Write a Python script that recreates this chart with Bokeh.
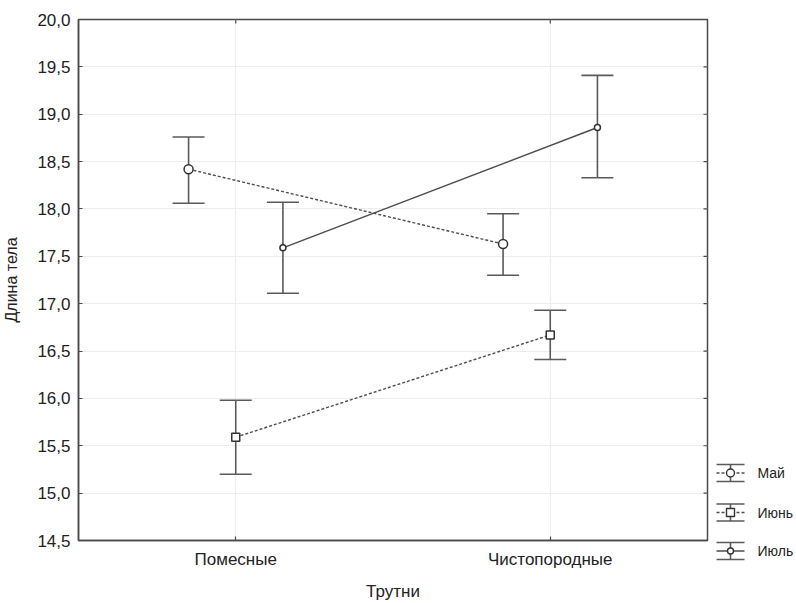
import math

from bokeh.plotting import figure
from bokeh.models import (ColumnDataSource, FactorRange, Range1d, Whisker, TeeHead,
                          FixedTicker, CustomJSTickFormatter)
from bokeh.transform import dodge
from bokeh.layouts import row, column
from bokeh.embed import file_html
from bokeh.resources import INLINE
from bokeh.core.properties import value

# Drone body length by origin group and month: mean with confidence interval
groups = ["Помесные", "Чистопородные"]
months = ["Май", "Июнь", "Июль"]

may_mean = [18.42, 17.63]
may_low = [18.06, 17.30]
may_high = [18.76, 17.95]

june_mean = [15.59, 16.67]
june_low = [15.20, 16.41]
june_high = [15.98, 16.93]

july_mean = [17.59, 18.86]
july_low = [17.11, 18.33]
july_high = [18.07, 19.41]

y_ticks = [14.5, 15.0, 15.5, 16.0, 16.5, 17.0, 17.5, 18.0, 18.5, 19.0, 19.5, 20.0]

FONT = "Liberation Sans"
TEXT = "#222222"
FRAME = "#4a4a4a"
LINE = "#4d4d4d"
BAR = "#5a5a5a"

series = [
    dict(name=months[0], mean=may_mean, low=may_low, high=may_high,
         offset=-0.15, dash="3 2", marker="circle", size=9),
    dict(name=months[1], mean=june_mean, low=june_low, high=june_high,
         offset=0.0, dash="3 2", marker="square", size=8),
    dict(name=months[2], mean=july_mean, low=july_low, high=july_high,
         offset=0.15, dash="solid", marker="circle", size=6),
]

p = figure(width=712, height=603,
           x_range=FactorRange(factors=groups), y_range=Range1d(y_ticks[0], y_ticks[-1]),
           output_backend="svg", toolbar_location=None,
           min_border_left=78, min_border_right=5,
           min_border_top=19, min_border_bottom=60,
           background_fill_color="white", border_fill_color="white")

p.outline_line_color = FRAME
p.outline_line_width = 1.5

for s in series:
    src = ColumnDataSource(dict(cat=groups, mean=s["mean"], low=s["low"], high=s["high"]))
    xpos = dodge("cat", s["offset"], range=p.x_range)
    w = Whisker(source=src, base=xpos, upper="high", lower="low",
                line_color=BAR, line_width=1.6, level="underlay",
                upper_head=TeeHead(size=32, line_color=BAR, line_width=1.6),
                lower_head=TeeHead(size=32, line_color=BAR, line_width=1.6))
    p.add_layout(w)
    p.line(x=xpos, y="mean", source=src, line_color=LINE, line_width=1.4,
           line_dash=s["dash"])
    p.scatter(x=xpos, y="mean", source=src, marker=s["marker"], size=s["size"],
              fill_color="white", line_color="#333333", line_width=1.5)

# Labelled axes on the left and bottom, ticks pointing into the frame
tick_fmt = CustomJSTickFormatter(code="return tick.toFixed(1).replace('.', ',');")
p.yaxis.ticker = FixedTicker(ticks=y_ticks)
p.yaxis.formatter = tick_fmt
p.ygrid.ticker = FixedTicker(ticks=y_ticks)

for ax in (p.xaxis[0], p.yaxis[0]):
    ax.axis_line_color = FRAME
    ax.axis_line_width = 1.5
    ax.major_tick_line_color = FRAME
    ax.major_tick_line_width = 1.2
    ax.major_tick_in = 4
    ax.major_tick_out = 0
    ax.minor_tick_line_color = None
    ax.major_label_text_font = FONT
    ax.major_label_text_font_size = "17px"
    ax.major_label_text_color = TEXT
    ax.axis_label_text_font = FONT
    ax.axis_label_text_font_style = "normal"
    ax.axis_label_text_color = TEXT

p.yaxis.axis_label = "Длина тела"
p.yaxis.axis_label_text_font_size = "16px"
p.yaxis.major_label_standoff = 8
p.yaxis.axis_label_standoff = 14

p.xaxis.axis_label = "Трутни"
p.xaxis.axis_label_text_font_size = "17px"
p.xaxis.major_label_standoff = 9
p.xaxis.axis_label_standoff = 10

# Mirrored inward ticks on the right and top edges (half of each dash is clipped)
right_src = ColumnDataSource(dict(cat=[groups[-1]] * len(y_ticks), y=y_ticks))
p.scatter(x=dodge("cat", 0.5, range=p.x_range), y="y", source=right_src,
          marker="dash", size=8, line_color=FRAME, line_width=1.2)
top_src = ColumnDataSource(dict(cat=groups, y=[y_ticks[-1]] * len(groups)))
p.scatter(x="cat", y="y", source=top_src, marker="dash", angle=math.pi / 2,
          size=8, line_color=FRAME, line_width=1.2)

p.xgrid.grid_line_color = "#ededed"
p.ygrid.grid_line_color = "#ededed"
p.xgrid.grid_line_width = 1
p.ygrid.grid_line_width = 1

# Legend panel beside the plot: error-bar icons with series labels
leg = figure(width=84, height=603, x_range=Range1d(0, 84), y_range=Range1d(603, 0),
             output_backend="svg", toolbar_location=None,
             min_border=0, min_border_left=0, min_border_right=0,
             min_border_top=0, min_border_bottom=0,
             outline_line_color=None, background_fill_color="white",
             border_fill_color="white")
leg.axis.visible = False
leg.grid.visible = False

icon_x0, icon_x1, icon_xc, text_x = 4, 32, 18, 45
row_y = [472.5, 512, 550.5]
half = 8.5
for s, yc in zip(series, row_y):
    leg.segment(x0=[icon_x0, icon_x0], x1=[icon_x1, icon_x1],
                y0=[yc - half, yc + half], y1=[yc - half, yc + half],
                line_color=BAR, line_width=1.6)
    leg.segment(x0=[icon_xc], x1=[icon_xc], y0=[yc - half], y1=[yc + half],
                line_color=BAR, line_width=1.6)
    leg.segment(x0=[icon_x0], x1=[icon_x1], y0=[yc], y1=[yc],
                line_color=LINE, line_width=1.4, line_dash=s["dash"])
    leg.scatter(x=[icon_xc], y=[yc], marker=s["marker"], size=min(s["size"], 8),
                fill_color="white", line_color="#333333", line_width=1.4)
    leg.text(x=[text_x], y=[yc], text=[s["name"]], text_font=value(FONT),
             text_font_size="14px", text_color=TEXT, text_baseline="middle")

layout = row(p, column(leg))
open("out.html", "w").write(file_html(layout, INLINE))
